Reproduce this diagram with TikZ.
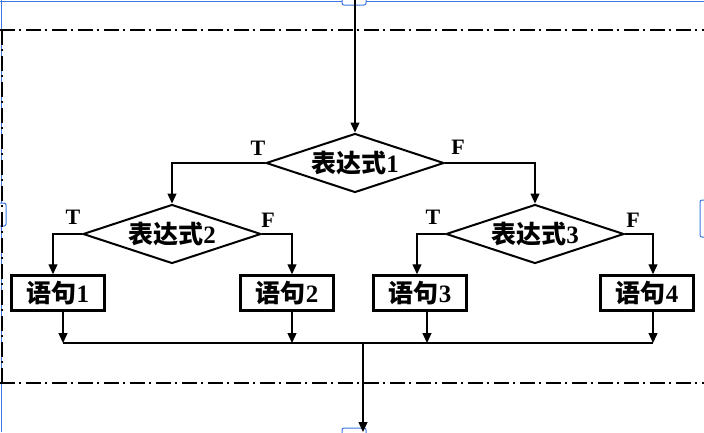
\documentclass[tikz,border=0pt]{standalone}
\usepackage{fontspec}
\setmainfont{Liberation Serif}
\newfontfamily\cjk{Noto Sans CJK SC}
\usetikzlibrary{shapes.geometric, arrows.meta}
\definecolor{selblue}{HTML}{3C78E6}
\newcommand{\zh}[1]{{\cjk #1}}

\begin{document}
\begin{tikzpicture}
    [
      x=1pt, y=-1pt,
      every node/.style = {align=center, font=\fontsize{25}{27}\selectfont\bfseries},
      cond/.style = {shape=diamond, draw, line width=2pt, aspect=3, minimum width=178pt, minimum height=59pt, inner sep=0pt},
      stmt/.style = {shape=rectangle, draw, line width=2.5pt, minimum width=93pt, minimum height=35pt, inner sep=0pt},
      tf/.style = {font=\fontsize{22}{24}\selectfont\bfseries, inner sep=0pt},
      arr/.style = {line width=1.3pt, -{Triangle[length=10pt, width=9pt]}},
      frame/.style = {line width=1.5pt, dash pattern=on 15pt off 4pt on 2pt off 5pt},
      sel/.style = {draw=selblue, line width=1pt, rounded corners=2pt}
    ]
    \useasboundingbox (0,0) rectangle (704,432);

    % selection frame
    \draw[sel] (0,1) -- (704,1);
    \draw[sel] (1,0) -- (1,432);
    \draw[sel, fill=white] (342,-4) rectangle (366,5);
    \draw[sel, fill=white] (-4,203) rectangle (6,226);
    \draw[sel, fill=white] (700,200) rectangle (710,237);
    \draw[sel, fill=white] (342,428) rectangle (366,438);

    % dash-dot frame
    \draw[frame] (0,30) -- (704,30);
    \draw[frame] (0,383) -- (704,383);
    \draw[frame] (2,30) -- (2,383);

    % conditions
    \node[cond] (d1) at (355,163) {\zh{表达式}1};
    \node[cond] (d2) at (172,234) {\zh{表达式}2};
    \node[cond] (d3) at (535,234) {\zh{表达式}3};

    % statements
    \node[stmt] (s1) at (58,293) {\zh{语句}1};
    \node[stmt] (s2) at (287,293) {\zh{语句}2};
    \node[stmt] (s3) at (420,293) {\zh{语句}3};
    \node[stmt] (s4) at (647,293) {\zh{语句}4};

    % T / F
    \node[tf] (t1) at (258,148) {T};
    \node[tf] (f1) at (458,147) {F};
    \node[tf] (t2) at (73,217) {T};
    \node[tf] (f2) at (268,220) {F};
    \node[tf] (t3) at (433,217) {T};
    \node[tf] (f3) at (633,220) {F};

    \coordinate (entry) at (355,0);
    \coordinate (join) at (363,343);
    \coordinate (exit) at (363,432);

    \draw[arr] (entry) -- (d1.north);
    \draw[arr] (d1.west) -| (d2.north);
    \draw[arr] (d1.east) -| (d3.north);
    \draw[arr] (d2.west) -| ([xshift=-5pt]s1.north);
    \draw[arr] (d2.east) -| ([xshift=5pt]s2.north);
    \draw[arr] (d3.west) -| ([xshift=-3pt]s3.north);
    \draw[arr] (d3.east) -| ([xshift=6pt]s4.north);

    \foreach \s/\dx in {s1/5, s2/5, s3/7, s4/6}
      \draw[arr] ([xshift=\dx pt]\s.south) -- ([xshift=\dx pt]\s.south |- join);
    \draw[line width=1.3pt] ([xshift=5pt]s1.south |- join) -- ([xshift=6pt]s4.south |- join);
    \draw[arr] (join) -- (exit);
  \end{tikzpicture}
\end{document}
